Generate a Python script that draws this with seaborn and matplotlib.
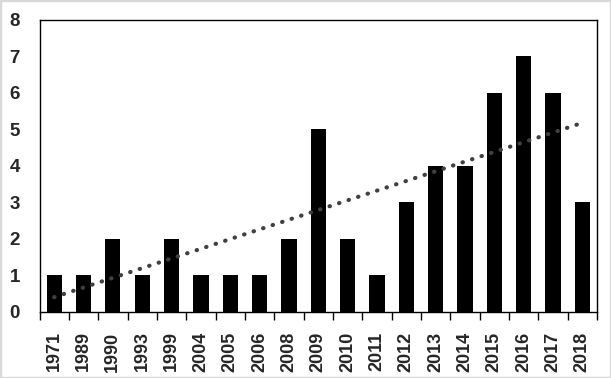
import numpy as np
import pandas as pd
import matplotlib
matplotlib.use("Agg")
import matplotlib.pyplot as plt
import seaborn as sns
from matplotlib.patches import Rectangle

years = ["1971", "1989", "1990", "1993", "1999", "2004", "2005", "2006", "2008",
         "2009", "2010", "2011", "2012", "2013", "2014", "2015", "2016", "2017", "2018"]
counts = [1, 1, 2, 1, 2, 1, 1, 1, 2, 5, 2, 1, 3, 4, 4, 6, 7, 6, 3]
y_ticks = [0, 1, 2, 3, 4, 5, 6, 7, 8]

sns.set_style("white")
plt.rcParams['font.family'] = ['Liberation Sans', 'DejaVu Sans']

df = pd.DataFrame({"year": years, "count": counts})

fig = plt.figure(figsize=(6.11, 3.78), dpi=100)
ax = fig.add_axes([39.5 / 611, 1 - 312 / 378, (597 - 39.5) / 611, (312 - 19.5) / 378])

sns.barplot(data=df, x="year", y="count", color="black", width=0.52,
            saturation=1, ax=ax, edgecolor="black", linewidth=0)

# linear trend line
idx = np.arange(len(counts))
slope, intercept = np.polyfit(idx, counts, 1)
ax.plot(idx, slope * idx + intercept, linestyle=(0, (0.1, 2.3)), color="#404040",
        linewidth=3, dash_capstyle="round", solid_capstyle="round")

ax.set_xlim(-0.5, len(years) - 0.5)
ax.set_ylim(0, 8)
ax.set_yticks(y_ticks)
ax.set_yticklabels([str(t) for t in y_ticks], fontsize=13.5, fontweight="bold")
ax.set_xticks(idx)
ax.set_xticklabels(years, rotation=90, fontsize=13, fontweight="bold")
ax.set_xticks(np.arange(-0.5, len(years), 1.0), minor=True)
ax.tick_params(axis="x", which="major", length=0, pad=14)
ax.tick_params(axis="x", which="minor", length=6, width=1, color="black", direction="out", bottom=True)
ax.tick_params(axis="y", which="major", length=0, pad=14)
ax.set_xlabel("")
ax.set_ylabel("")
for s in ax.spines.values():
    s.set_visible(True)
    s.set_color("black")
    s.set_linewidth(1)

fig.patches.append(Rectangle((0, 0), 1, 1, transform=fig.transFigure, fill=False,
                             edgecolor="#d9d9d9", linewidth=2.5))

fig.savefig("out.png", dpi=100)
